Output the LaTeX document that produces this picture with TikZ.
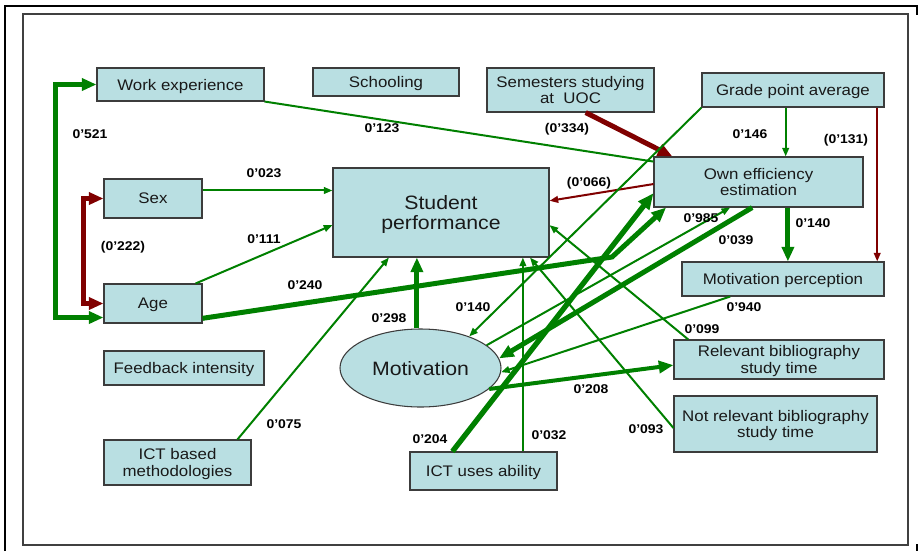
\documentclass[tikz,border=0pt]{standalone}
\usepackage{fontspec}
\setmainfont{Liberation Sans}[FakeStretch=1.1]
\usetikzlibrary{calc,arrows.meta,shapes.geometric}
\definecolor{boxfill}{RGB}{185,223,226}
\definecolor{gr}{RGB}{0,128,0}
\definecolor{dr}{RGB}{128,0,0}
\definecolor{boxline}{RGB}{60,60,60}
\begin{document}
\begin{tikzpicture}[x=0.75pt,y=-0.75pt,
  box/.style={draw=boxline,line width=0.8pt,fill=boxfill,align=center,inner sep=0pt,text depth=0pt,text=black!90,font=\fontsize{11.5}{12.5}\selectfont},
  big/.style={font=\fontsize{14.5}{15.5}\selectfont},
  wh/.style 2 args={minimum width=#1*0.75pt,minimum height=#2*0.75pt},
  lab/.style={font=\bfseries\fontsize{9.5}{10}\selectfont,inner sep=0pt,text=black},
  thinln/.style={line width=1.5pt},
  thickln/.style={line width=3.75pt},
  ta/.style={-{Triangle[length=6.5pt,width=5pt]}},
  Ta/.style={-{Triangle[length=11pt,width=9pt]}},
  TTa/.style={-{Triangle[length=12pt,width=10pt]}},
  dbl/.style={{Triangle[length=11pt,width=9pt]}-{Triangle[length=11pt,width=9pt]}}
]
\useasboundingbox (0,0) rectangle (922,551);
% frames
\draw[line width=1.5pt,black] (5,551) -- (5,6) -- (917,6) -- (917,15);
\draw[line width=1.5pt,black] (917,544) -- (917,551);
\draw[line width=0.8pt,black!75] (23,14) rectangle (908,545);

% nodes
\node[box,wh={167}{33}] (we) at (180.5,84.5) {Work experience};
\node[box,wh={146}{28}] (sch) at (386,82) {Schooling};
\node[box,wh={167}{44}] (sem) at (570.5,90) {Semesters studying\\at~~UOC};
\node[box,wh={182}{34}] (gpa) at (793,90) {Grade point average};
\node[box,wh={209}{50}] (oe) at (758.5,182) {Own efficiency\\estimation};
\node[box,big,wh={216}{89}] (sp) at (441,212.5) {Student\\performance};
\node[box,wh={98}{39}] (sex) at (153,198.5) {Sex};
\node[box,wh={98}{39}] (age) at (153,303.5) {Age};
\node[box,wh={160}{34}] (fb) at (184,368) {Feedback intensity};
\node[box,wh={147}{45}] (ictb) at (177.5,462.5) {ICT based\\methodologies};
\node[box,big,ellipse,wh={161}{78}] (mot) at (420.5,368) {Motivation};
\node[box,wh={202}{34}] (mp) at (783,279) {Motivation perception};
\node[box,wh={210}{39}] (rb) at (779,359.5) {Relevant bibliography\\study time};
\node[box,wh={203}{56}] (nrb) at (775.5,424) {Not relevant bibliography\\study time};
\node[box,wh={147}{38}] (ictu) at (483.5,471) {ICT uses ability};

% helper coordinates
\coordinate (lx) at (55,85);
\coordinate (rx) at (83,197);
\coordinate (ag1) at ($(age.north west)!0.85!(age.south west)$);
\coordinate (s1) at ($(sex.north east)!0.3!(sex.south east)$);
\coordinate (k1) at (612,257);
\coordinate (sp1) at ($(sp.south west)!0.389!(sp.south east)$);
\coordinate (oe1) at ($(oe.south west)!0.64!(oe.south east)$);
\coordinate (g1) at ($(gpa.south west)!0.46!(gpa.south east)$);
\coordinate (g2) at ($(gpa.south west)!0.96!(gpa.south east)$);
\coordinate (iu1) at ($(ictu.north west)!0.766!(ictu.north east)$);

% connectors
\draw[gr,thickln,dbl] (ag1) -- (ag1 -| lx) -- (we.west -| lx) -- (we.west);
\draw[dr,thickln,dbl] (sex.west) -- (sex.west -| rx) -- (age.west -| rx) -- (age.west);
\draw[gr,thinln] (we.south east) -- ($(oe.north west)!0.1!(oe.south west)$);
\draw[gr,thinln,ta] (s1) -- (s1 -| sp.west);
\draw[gr,thinln,ta] ($(age.north west)!0.93!(age.north east)$) -- ($(sp.north west)!0.64!(sp.south west)$);
\draw[gr,thickln,Ta] ($(age.north east)!0.87!(age.south east)$) -- (k1) -- ($(oe.south west)!0.06!(oe.south east)$);
\draw[gr,line width=4pt,TTa] ($(ictu.north west)!0.29!(ictu.north east)$) -- ($(oe.north west)!0.72!(oe.south west)$);
\draw[gr,thinln,ta] (mot.19) -- ($(oe.south west)!0.365!(oe.south east)$);
\draw[gr,thickln,Ta] ($(oe.south west)!0.47!(oe.south east)$) -- (mot.7);
\draw[gr,thickln,Ta] (oe1) -- (oe1 |- mp.north);
\draw[gr,thinln,ta] (g1) -- (g1 |- oe.north);
\draw[dr,thinln,ta] (g2) -- (g2 |- mp.north);
\draw[dr,thickln,Ta] ($(sem.south west)!0.59!(sem.south east)$) -- ($(oe.north west)!0.09!(oe.north east)$);
\draw[dr,thinln,ta] ($(oe.north west)!0.54!(oe.south west)$) -- ($(sp.north east)!0.37!(sp.south east)$);
\draw[gr,thinln,ta] (gpa.south west) -- (mot.33);
\draw[gr,thickln,Ta] (sp1 |- mot.north) -- (sp1);
\draw[gr,thinln,ta] ($(ictb.north west)!0.905!(ictb.north east)$) -- ($(sp.south west)!0.26!(sp.south east)$);
\draw[gr,thinln,ta] (iu1) -- (iu1 |- sp.south);
\draw[gr,thinln,ta] ($(rb.north west)!0.07!(rb.north east)$) -- ($(sp.north east)!0.64!(sp.south east)$);
\draw[gr,thinln,ta] ($(nrb.north west)!0.57!(nrb.south west)$) -- ($(sp.south west)!0.91!(sp.south east)$);
\draw[gr,thinln,ta] ($(mp.south west)!0.24!(mp.south east)$) -- (mot.-3);
\draw[gr,line width=3pt,Ta] (mot.-17.5) -- ($(rb.north west)!0.64!(rb.south west)$);

% labels
\node[lab] (l1) at (90,134) {0’521};
\node[lab] (l2) at (123,247) {(0’222)};
\node[lab] (l3) at (382,128) {0’123};
\node[lab] (l4) at (264,173) {0’023};
\node[lab] (l5) at (264,239) {0’111};
\node[lab] (l6) at (305,285) {0’240};
\node[lab] (l7) at (389,318) {0’298};
\node[lab] (l8) at (473,307) {0’140};
\node[lab] (l9) at (567,129) {(0’334)};
\node[lab] (l10) at (750,134) {0’146};
\node[lab] (l11) at (846,140) {(0’131)};
\node[lab] (l12) at (589,183) {(0’066)};
\node[lab] (l13) at (701,218) {0’985};
\node[lab] (l14) at (736,240) {0’039};
\node[lab] (l15) at (813,223) {0’140};
\node[lab] (l16) at (744,307) {0’940};
\node[lab] (l17) at (702,329) {0’099};
\node[lab] (l18) at (591,389) {0’208};
\node[lab] (l19) at (646,429) {0’093};
\node[lab] (l20) at (430,439) {0’204};
\node[lab] (l21) at (549,435) {0’032};
\node[lab] (l22) at (284,424) {0’075};
\end{tikzpicture}
\end{document}
